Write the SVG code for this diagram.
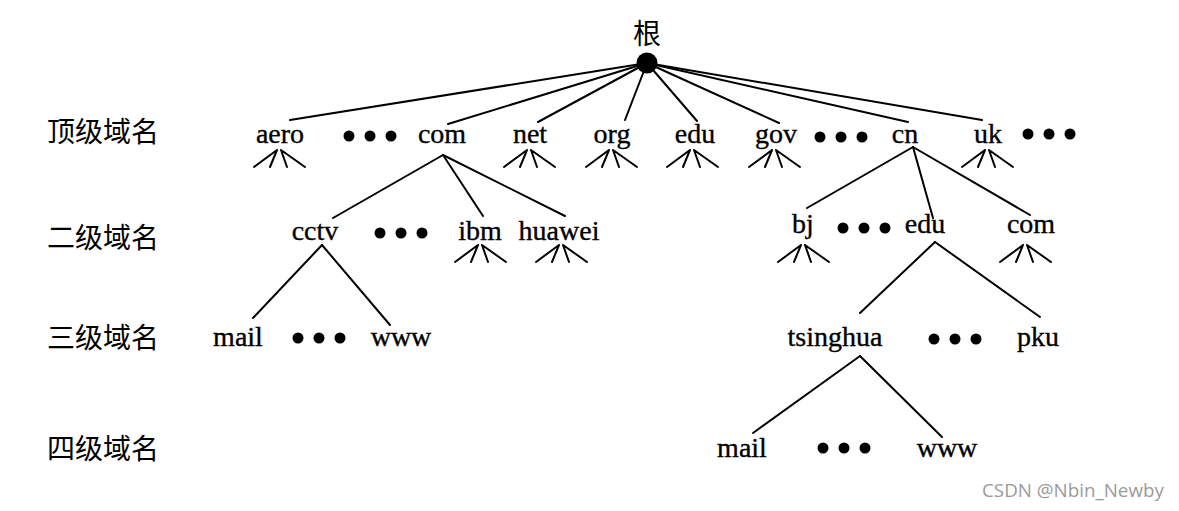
<svg xmlns="http://www.w3.org/2000/svg" xmlns:xlink="http://www.w3.org/1999/xlink" width="1179" height="511" viewBox="0 0 1179 511">
<style>
.lbl{font-family:"Liberation Serif","Times New Roman",serif;font-size:28px;fill:#000;stroke:#000;stroke-width:0.35;text-anchor:middle}
.cjk{font-family:"Noto Sans CJK SC","Noto Sans",sans-serif;font-size:28px;fill:#000}
.ln{stroke:#000;stroke-width:2;fill:none;stroke-linecap:round}
.dot{fill:#000}
.wm{font-family:"Open Sans","Noto Sans",sans-serif;font-size:18.8px;fill:#9a9a9a}
</style>
<defs>
<path id="fan" d="M-3,0 L-26,17 M-3,0 L-10,17 M1,0 L7,17 M1,0 L25,17" stroke="#000" stroke-width="2" fill="none" stroke-linecap="round"/>
<g id="dots3"><circle cx="0" cy="0" r="5.5"/><circle cx="21" cy="0" r="5.5"/><circle cx="42" cy="0" r="5.5"/></g>
</defs>
<rect width="1179" height="511" fill="#fff"/>

<g id="levels">
<text class="cjk" x="47" y="142">顶级域名</text>
<text class="cjk" x="47" y="248">二级域名</text>
<text class="cjk" x="47" y="348">三级域名</text>
<text class="cjk" x="47" y="459">四级域名</text>
</g>

<g id="connectors" class="ln">
<line x1="647" y1="63" x2="290" y2="120"/>
<line x1="647" y1="63" x2="448" y2="124"/>
<line x1="647" y1="63" x2="538" y2="122"/>
<line x1="647" y1="63" x2="625" y2="120"/>
<line x1="647" y1="63" x2="697" y2="121"/>
<line x1="647" y1="63" x2="779" y2="123"/>
<line x1="647" y1="63" x2="908" y2="122"/>
<line x1="647" y1="63" x2="982" y2="120"/>
<line x1="443" y1="155" x2="333" y2="218"/>
<line x1="443" y1="155" x2="483" y2="216"/>
<line x1="443" y1="155" x2="565" y2="216"/>
<line x1="322" y1="245" x2="253" y2="318"/>
<line x1="322" y1="245" x2="390" y2="325"/>
<line x1="913" y1="147" x2="807" y2="208"/>
<line x1="913" y1="147" x2="933" y2="218"/>
<line x1="913" y1="147" x2="1030" y2="215"/>
<line x1="935" y1="242" x2="860" y2="313"/>
<line x1="935" y1="242" x2="1040" y2="317"/>
<line x1="860" y1="356" x2="753" y2="433"/>
<line x1="860" y1="356" x2="942" y2="437"/>
<use xlink:href="#fan" x="280" y="150"/>
<use xlink:href="#fan" x="530" y="150"/>
<use xlink:href="#fan" x="612" y="150"/>
<use xlink:href="#fan" x="693" y="150"/>
<use xlink:href="#fan" x="775" y="150"/>
<use xlink:href="#fan" x="988" y="150"/>
<use xlink:href="#fan" x="481" y="245"/>
<use xlink:href="#fan" x="562" y="245"/>
<use xlink:href="#fan" x="804" y="245"/>
<use xlink:href="#fan" x="1026" y="245"/>
</g>

<g id="root"><text class="cjk" x="647" y="44" text-anchor="middle" font-size="26">根</text><circle cx="647" cy="63" r="10.5"/></g>

<g id="n-aero"><text class="lbl" x="280" y="143">aero</text></g>
<g id="n-dots-top1" class="dot"><use xlink:href="#dots3" x="349" y="136"/></g>
<g id="n-com"><text class="lbl" x="442" y="143">com</text></g>
<g id="n-net"><text class="lbl" x="530" y="143">net</text></g>
<g id="n-org"><text class="lbl" x="612" y="143">org</text></g>
<g id="n-edu"><text class="lbl" x="695" y="143">edu</text></g>
<g id="n-gov"><text class="lbl" x="776" y="143">gov</text></g>
<g id="n-dots-top2" class="dot"><use xlink:href="#dots3" x="820" y="137"/></g>
<g id="n-cn"><text class="lbl" x="905" y="143">cn</text></g>
<g id="n-uk"><text class="lbl" x="988" y="143">uk</text></g>
<g id="n-dots-top3" class="dot"><use xlink:href="#dots3" x="1028" y="134"/></g>

<g id="n-cctv"><text class="lbl" x="315" y="240">cctv</text></g>
<g id="n-dots-com" class="dot"><use xlink:href="#dots3" x="380" y="233"/></g>
<g id="n-ibm"><text class="lbl" x="480" y="240">ibm</text></g>
<g id="n-huawei"><text class="lbl" x="559" y="240">huawei</text></g>

<g id="n-bj"><text class="lbl" x="803" y="233">bj</text></g>
<g id="n-dots-cn" class="dot"><use xlink:href="#dots3" x="843" y="228"/></g>
<g id="n-cn-edu"><text class="lbl" x="925" y="233">edu</text></g>
<g id="n-cn-com"><text class="lbl" x="1031" y="233">com</text></g>

<g id="n-cctv-mail"><text class="lbl" x="238" y="346">mail</text></g>
<g id="n-dots-cctv" class="dot"><use xlink:href="#dots3" x="298" y="338"/></g>
<g id="n-cctv-www"><text class="lbl" x="401" y="346">www</text></g>

<g id="n-tsinghua"><text class="lbl" x="835" y="346">tsinghua</text></g>
<g id="n-dots-edu" class="dot"><use xlink:href="#dots3" x="934" y="339"/></g>
<g id="n-pku"><text class="lbl" x="1038" y="346">pku</text></g>

<g id="n-ts-mail"><text class="lbl" x="742" y="457">mail</text></g>
<g id="n-dots-ts" class="dot"><use xlink:href="#dots3" x="823" y="448"/></g>
<g id="n-ts-www"><text class="lbl" x="947" y="457">www</text></g>

<text class="wm" x="982" y="497">CSDN @Nbin_Newby</text>
</svg>
